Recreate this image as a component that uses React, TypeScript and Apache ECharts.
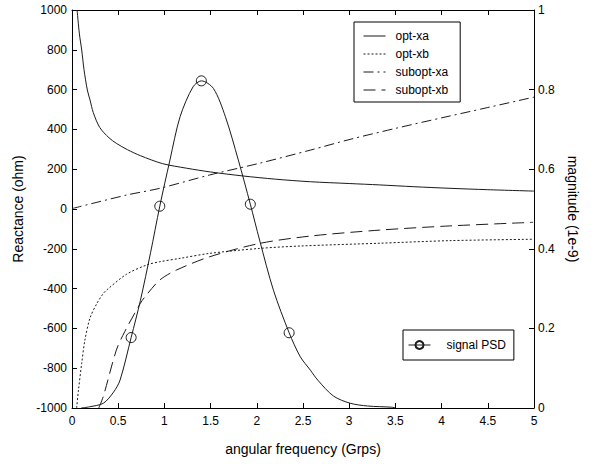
import React, { useEffect, useRef } from "react";
import * as echarts from "echarts";

const optXaX = [0.055, 0.08, 0.105, 0.13, 0.166, 0.195, 0.23, 0.3, 0.4, 0.48, 0.6, 0.74, 0.98, 1.24, 1.5, 1.85, 2.2, 2.58, 3.0, 3.33, 3.7, 4.09, 4.5, 5.0];
const optXaY = [1000, 880, 799, 700, 598, 548, 485, 410, 358, 330, 298, 268, 228, 205, 186, 166, 150, 137, 128, 121, 112, 104, 97, 90];

const optXbX = [0.05, 0.07, 0.105, 0.14, 0.195, 0.27, 0.34, 0.375, 0.59, 0.81, 0.95, 1.17, 1.49, 2.03, 2.47, 3.33, 4.09, 4.99];
const optXbY = [-1000, -910, -775, -658, -548, -474, -424, -407, -328, -281, -265, -248, -223, -198, -186, -172, -159, -152];

const subXaX = [0, 0.59, 0.95, 1.49, 2.03, 2.58, 3.01, 3.5, 4.0, 4.5, 4.94, 5.0];
const subXaY = [2, 70, 104, 171, 230, 296, 350, 405, 458, 510, 556, 562];

const subXbX = [0.29, 0.34, 0.48, 0.57, 0.74, 0.79, 0.95, 1.13, 1.49, 2.03, 2.58, 3.33, 4.09, 4.99];
const subXbY = [-1000, -940, -709, -617, -474, -441, -357, -307, -240, -173, -136, -106, -85, -67];

const psdX = [0.1, 0.19, 0.34, 0.45, 0.52, 0.64, 0.74, 0.85, 0.95, 1.06, 1.17, 1.31, 1.4, 1.53, 1.66, 1.8, 1.93, 2.03, 2.18, 2.35, 2.47, 2.58, 2.66, 2.83, 3.01, 3.2, 3.46, 3.5];
const psdY = [0.0, 0.003, 0.012, 0.04, 0.07, 0.177, 0.27, 0.39, 0.507, 0.623, 0.732, 0.807, 0.822, 0.803, 0.732, 0.623, 0.512, 0.422, 0.296, 0.189, 0.129, 0.095, 0.07, 0.03, 0.012, 0.005, 0.002, 0.0];
const psdMarkerIdx = [5, 8, 12, 16, 19];

const FONT = "'Liberation Sans', Arial, sans-serif";
const INK = "#1a1a1a";

function pairs(xs: number[], ys: number[]) {
  return xs.map((x, i) => [x, ys[i]]);
}

export default function App() {
  const ref = useRef<HTMLDivElement>(null);
  useEffect(() => {
    if (!ref.current) return;
    const chart = echarts.init(ref.current, undefined, { renderer: "svg" });
    const axisLine = { show: true, onZero: false, lineStyle: { color: "#000", width: 1 } };
    const tick = { show: true, inside: true, length: 5, lineStyle: { color: "#000" } };
    const labelStyle = { color: "#000", fontSize: 12, fontFamily: FONT };
    const nameStyle = { color: "#000", fontSize: 14, fontFamily: FONT };
    const psdData = psdX.map((x, i) =>
      psdMarkerIdx.includes(i)
        ? { value: [x, psdY[i]] }
        : { value: [x, psdY[i]], symbol: "none" }
    );
    chart.setOption({
      animation: false,
      backgroundColor: "#fff",
      textStyle: { fontFamily: FONT },
      grid: { left: 72, right: 66, top: 10, bottom: 58, containLabel: false },
      legend: [
        {
          data: ["opt-xa", "opt-xb", "subopt-xa", "subopt-xb"],
          orient: "vertical",
          left: 354,
          top: 22,
          padding: [7, 12, 5, 9],
          itemWidth: 22,
          itemHeight: 10,
          itemGap: 4,
          borderColor: "#000",
          borderWidth: 1,
          borderRadius: 0,
          backgroundColor: "#fff",
          selectedMode: false,
          lineStyle: { width: 1 },
          itemStyle: { color: "rgba(0,0,0,0)", borderWidth: 0, opacity: 0 },
          textStyle: { color: "#000", fontSize: 12, lineHeight: 14, fontFamily: FONT, padding: [0, 0, 0, 5] },
        },
        {
          data: ["signal PSD"],
          orient: "vertical",
          left: 403,
          top: 330,
          padding: [9, 8, 9, 5],
          itemWidth: 22,
          itemHeight: 10,
          borderColor: "#000",
          borderWidth: 1,
          borderRadius: 0,
          backgroundColor: "#fff",
          selectedMode: false,
          lineStyle: { width: 1 },
          textStyle: { color: "#000", fontSize: 12, fontFamily: FONT, padding: [0, 0, 0, 11] },
        },
      ],
      xAxis: [
        {
          type: "value",
          min: 0,
          max: 5,
          interval: 0.5,
          position: "bottom",
          name: "angular frequency (Grps)",
          nameLocation: "middle",
          nameGap: 34,
          nameTextStyle: nameStyle,
          axisLine,
          axisTick: tick,
          axisLabel: { ...labelStyle, margin: 7, formatter: (v: number) => String(v) },
          splitLine: { show: false },
        },
        {
          type: "value",
          min: 0,
          max: 5,
          interval: 0.5,
          position: "top",
          axisLine,
          axisTick: tick,
          axisLabel: { show: false },
          splitLine: { show: false },
        },
      ],
      yAxis: [
        {
          type: "value",
          min: -1000,
          max: 1000,
          interval: 200,
          position: "left",
          name: "Reactance (ohm)",
          nameLocation: "middle",
          nameGap: 42,
          nameTextStyle: nameStyle,
          axisLine,
          axisTick: tick,
          axisLabel: { ...labelStyle, margin: 5, formatter: (v: number) => String(v) },
          splitLine: { show: false },
        },
        {
          type: "value",
          min: 0,
          max: 1,
          interval: 0.2,
          position: "right",
          name: "magnitude (1e-9)",
          nameLocation: "middle",
          nameRotate: -90,
          nameGap: 26,
          nameTextStyle: nameStyle,
          axisLine,
          axisTick: tick,
          axisLabel: { ...labelStyle, margin: 4, formatter: (v: number) => String(Math.round(v * 10) / 10) },
          splitLine: { show: false },
        },
      ],
      series: [
        {
          name: "opt-xa",
          type: "line",
          xAxisIndex: 0,
          yAxisIndex: 0,
          data: pairs(optXaX, optXaY),
          symbol: "none",
          smooth: 0.3,
          lineStyle: { color: INK, width: 1, type: "solid" },
          itemStyle: { color: INK },
        },
        {
          name: "opt-xb",
          type: "line",
          xAxisIndex: 0,
          yAxisIndex: 0,
          data: pairs(optXbX, optXbY),
          symbol: "none",
          smooth: 0.3,
          lineStyle: { color: INK, width: 1, type: [2, 2] },
          itemStyle: { color: INK },
        },
        {
          name: "subopt-xa",
          type: "line",
          xAxisIndex: 0,
          yAxisIndex: 0,
          data: pairs(subXaX, subXaY),
          symbol: "none",
          smooth: 0.3,
          lineStyle: { color: INK, width: 1, type: [10, 4, 2, 4] },
          itemStyle: { color: INK },
        },
        {
          name: "subopt-xb",
          type: "line",
          xAxisIndex: 0,
          yAxisIndex: 0,
          data: pairs(subXbX, subXbY),
          symbol: "none",
          smooth: 0.3,
          lineStyle: { color: INK, width: 1, type: [12, 6] },
          itemStyle: { color: INK },
        },
        {
          name: "signal PSD",
          type: "line",
          xAxisIndex: 0,
          yAxisIndex: 1,
          data: psdData,
          symbol: "circle",
          symbolSize: 10,
          showSymbol: true,
          smooth: 0.3,
          lineStyle: { color: INK, width: 1, type: "solid" },
          itemStyle: { color: "rgba(0,0,0,0)", borderColor: INK, borderWidth: 1 },
        },
      ],
    });
    return () => chart.dispose();
  }, []);
  return <div ref={ref} style={{ width: 600, height: 466, position: "absolute", left: 0, top: 0 }} />;
}
